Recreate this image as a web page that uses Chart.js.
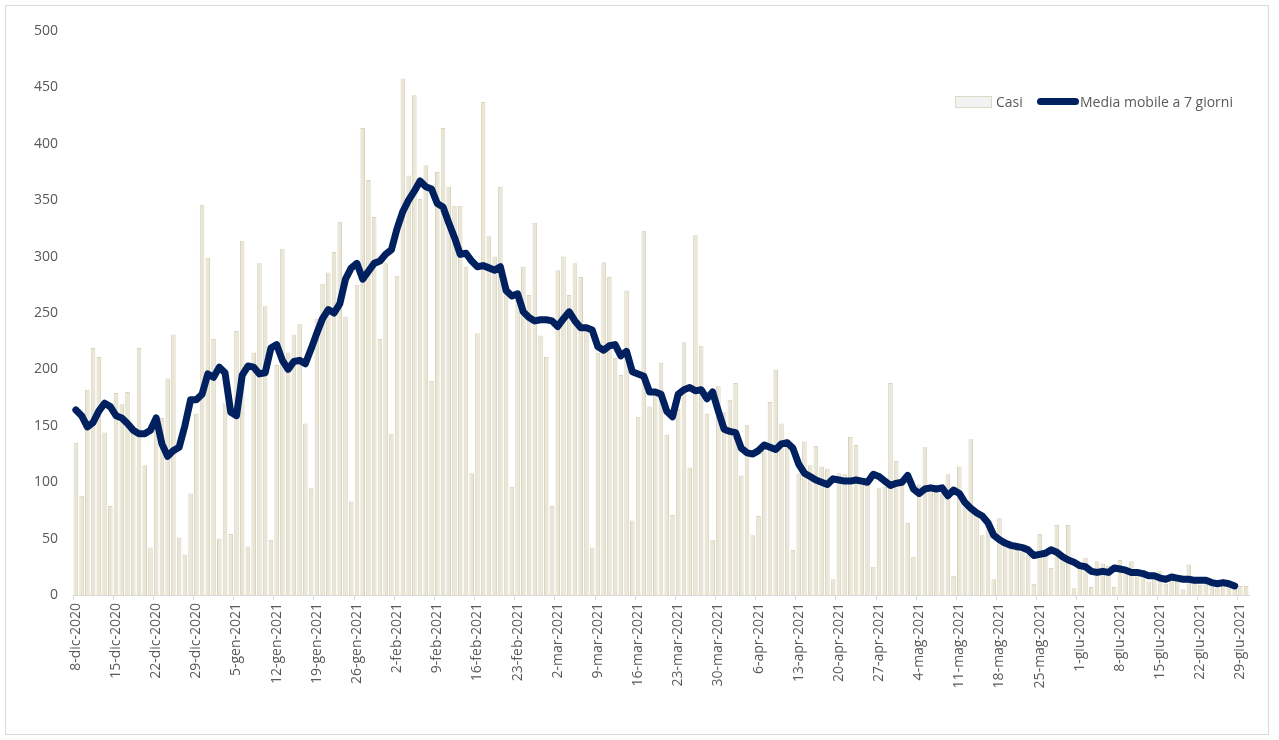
<!DOCTYPE html>
<html>
<head>
<meta charset="utf-8">
<script src="https://cdn.jsdelivr.net/npm/chart.js@4/dist/chart.umd.min.js"></script>
<style>
  body { margin: 0; background: #ffffff; }
  #box { position: relative; width: 1279px; height: 740px; }
  #cornice { position: absolute; left: 5px; top: 5px; width: 1262px; height: 728px; border: 1px solid #d9d9d9; }
  canvas { position: absolute; left: 0; top: 0; }
  .leg { position: absolute; top: 92px; font-family: "Open Sans", sans-serif; font-size: 14px; color: #595959; line-height: 20px; }
  .sw-bar { position: absolute; top: 96px; left: 955px; width: 35px; height: 10px; background: #f2f2f2; border: 1px solid #ddd9c3; }
  .sw-line { position: absolute; top: 98px; left: 1037px; width: 42px; height: 7px; background: #002060; border-radius: 4px; }
</style>
</head>
<body>
<div id="box">
  <div id="cornice"></div>
  <canvas id="grafico" width="1279" height="740"></canvas>
  <div class="sw-bar"></div><div class="leg" style="left:996px">Casi</div>
  <div class="sw-line"></div><div class="leg" style="left:1080px">Media mobile a 7 giorni</div>
</div>
<script>
// Casi giornalieri dall'8 dicembre 2020 al 30 giugno 2021 e media mobile a 7 giorni.
const mesi = ['gen', 'feb', 'mar', 'apr', 'mag', 'giu', 'lug', 'ago', 'set', 'ott', 'nov', 'dic'];

const casi = [
  135, 88, 182, 219, 211, 144, 79, 179, 169, 180, 150, 219, 115, 42, 150, 157, 192, 231, 51, 36,
  90, 161, 346, 299, 227, 50, 170, 54, 234, 314, 43, 215, 294, 256, 49, 204, 307, 215, 231, 240,
  152, 95, 245, 276, 286, 304, 331, 247, 83, 275, 414, 368, 335, 227, 294, 143, 283, 458, 372, 443,
  351, 381, 190, 375, 414, 362, 345, 345, 291, 108, 232, 437, 318, 300, 362, 270, 96, 265, 291, 266,
  330, 230, 211, 79, 288, 300, 266, 294, 282, 240, 42, 215, 295, 282, 210, 195, 270, 66, 158, 323,
  167, 178, 206, 142, 71, 165, 224, 113, 319, 221, 161, 49, 185, 162, 173, 188, 106, 151, 53, 70,
  128, 171, 200, 152, 138, 40, 108, 136, 115, 132, 114, 112, 14, 108, 107, 140, 133, 100, 98, 25,
  95, 96, 188, 119, 102, 64, 34, 98, 131, 92, 98, 90, 107, 17, 114, 80, 138, 75, 53, 58,
  14, 68, 45, 42, 40, 38, 36, 10, 54, 35, 24, 62, 33, 62, 6, 25, 33, 7, 30, 28,
  26, 7, 31, 20, 30, 18, 22, 12, 15, 21, 10, 16, 18, 5, 27, 12, 9, 14, 12, 6,
  10, 12, 9, 8, 8
];

const mediaMobile = [
  164, 159, 149, 153, 163, 170, 167, 159, 157, 152, 146, 143, 143, 146, 157, 134, 123, 128, 131, 150,
  173, 173, 178, 196, 193, 202, 197, 162, 159, 195, 203, 202, 196, 197, 219, 222, 208, 200, 207, 208,
  205, 218, 232, 245, 253, 250, 258, 280, 290, 294, 280, 287, 294, 296, 302, 306, 325, 340, 350, 358,
  367, 362, 360, 347, 344, 330, 317, 302, 303, 296, 291, 292, 290, 288, 291, 270, 265, 267, 251, 246,
  243, 244, 244, 243, 238, 245, 251, 243, 237, 237, 235, 220, 217, 221, 222, 212, 216, 198, 196, 194,
  180, 180, 178, 163, 158, 178, 182, 184, 181, 182, 174, 180, 163, 147, 145, 144, 130, 126, 125, 128,
  133, 131, 129, 134, 135, 130, 116, 108, 105, 102, 100, 98, 103, 102, 101, 101, 102, 101, 100, 107,
  105, 101, 97, 99, 100, 106, 94, 90, 94, 95, 94, 95, 88, 93, 90, 82, 77, 73, 70, 64,
  53, 49, 46, 44, 43, 42, 40, 35, 36, 37, 40, 38, 34, 31, 29, 26, 25, 21, 20, 21,
  20, 24, 23, 22, 20, 20, 19, 17, 17, 15, 14, 16, 15, 14, 14, 13, 13, 13, 11, 10,
  11, 10, 8, null, null
];

// etichette settimanali dell'asse x
const tickSettimanali = [
  '8-dic-2020', '15-dic-2020', '22-dic-2020', '29-dic-2020', '5-gen-2021', '12-gen-2021',
  '19-gen-2021', '26-gen-2021', '2-feb-2021', '9-feb-2021', '16-feb-2021', '23-feb-2021',
  '2-mar-2021', '9-mar-2021', '16-mar-2021', '23-mar-2021', '30-mar-2021', '6-apr-2021',
  '13-apr-2021', '20-apr-2021', '27-apr-2021', '4-mag-2021', '11-mag-2021', '18-mag-2021',
  '25-mag-2021', '1-giu-2021', '8-giu-2021', '15-giu-2021', '22-giu-2021', '29-giu-2021'
];

const tickY = [0, 50, 100, 150, 200, 250, 300, 350, 400, 450, 500];

// un'etichetta per ogni giorno
const giorni = [];
const inizio = new Date(2020, 11, 8);
for (let i = 0; i < casi.length; i++) {
  const d = new Date(inizio.getFullYear(), inizio.getMonth(), inizio.getDate() + i);
  giorni.push(d.getDate() + '-' + mesi[d.getMonth()] + '-' + d.getFullYear());
}

const grigioTesto = '#595959';
const fontAssi = { family: 'Open Sans', size: 14 };

new Chart(document.getElementById('grafico'), {
  type: 'bar',
  data: {
    labels: giorni,
    datasets: [
      {
        type: 'line',
        label: 'Media mobile a 7 giorni',
        data: mediaMobile,
        borderColor: '#002060',
        borderWidth: 7,
        pointRadius: 0,
        tension: 0,
        borderJoinStyle: 'round',
        borderCapStyle: 'round',
        order: 0,
      },
      {
        label: 'Casi',
        data: casi,
        backgroundColor: '#e9e6d8',
        borderColor: '#d8d3ba',
        borderWidth: 1,
        barPercentage: 0.8,
        categoryPercentage: 1,
        order: 1,
      },
    ],
  },
  options: {
    responsive: false,
    animation: false,
    layout: { padding: { left: 0, right: 30, top: 31, bottom: 0 } },
    plugins: {
      legend: { display: false },
      tooltip: { enabled: false },
    },
    scales: {
      x: {
        offset: true,
        grid: {
          offset: true,
          drawOnChartArea: false,
          tickLength: 5,
          color: (ctx) => (ctx.index % 7 === 0 ? '#d9d9d9' : 'rgba(0,0,0,0)'),
        },
        border: { display: true, color: '#d9d9d9' },
        ticks: {
          autoSkip: false,
          minRotation: 90,
          maxRotation: 90,
          padding: 3,
          color: grigioTesto,
          font: fontAssi,
          callback: (valore, i) => (i % 7 === 0 ? tickSettimanali[i / 7] : ''),
        },
        afterFit: (scala) => { scala.height = 145; },
      },
      y: {
        min: 0,
        max: 500,
        afterBuildTicks: (scala) => { scala.ticks = tickY.map((v) => ({ value: v })); },
        grid: { display: false, drawTicks: false },
        border: { display: false },
        ticks: { padding: 15, color: grigioTesto, font: fontAssi },
        afterFit: (scala) => { scala.width = 73; },
      },
    },
  },
});
</script>
</body>
</html>
